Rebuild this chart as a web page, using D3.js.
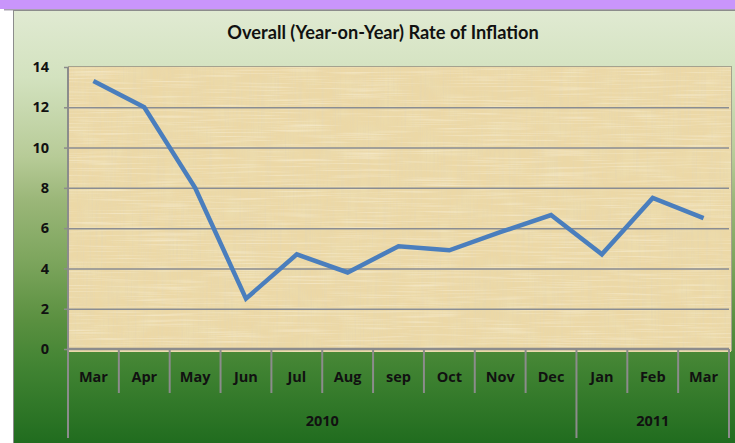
<!DOCTYPE html>
<html>
<head>
<meta charset="utf-8">
<script src="https://cdn.jsdelivr.net/npm/d3@7"></script>
<style>
  html, body { margin: 0; padding: 0; background: #fff; }
  svg { display: block; }
</style>
</head>
<body>
<div class="chart"></div>
<script>
// data
var months = ["Mar", "Apr", "May", "Jun", "Jul", "Aug", "sep", "Oct", "Nov", "Dec", "Jan", "Feb", "Mar"];
var inflation = [13.3, 12.0, 8.0, 2.5, 4.7, 3.8, 5.1, 4.9, 5.8, 6.65, 4.7, 7.5, 6.5];
var years = ["2010", "2011"];
var yearFirstMonth = [0, 10];   // index into months where each year begins
var yTicks = [0, 2, 4, 6, 8, 10, 12, 14];

var width = 735, height = 443;
var labelFont = "'Open Sans', sans-serif";
var labelSize = 14.5;

var svg = d3.select(".chart").append("svg")
    .attr("width", width)
    .attr("height", height);

var plot = { left: 68, right: 729, top: 67, bottom: 349 };
var monthRowBottom = 393, yearRowBottom = 438;

var defs = svg.append("defs");

var bg = defs.append("linearGradient")
    .attr("id", "bg")
    .attr("x1", 0).attr("y1", 0).attr("x2", 0).attr("y2", 1);
[[0, "#e0ead2"], [0.15, "#d3e2bf"], [0.33, "#b7cb97"], [0.43, "#9ab678"],
 [0.56, "#7ea65e"], [0.7, "#5a9040"], [0.8, "#428433"], [1, "#1c691c"]]
  .forEach(s => bg.append("stop").attr("offset", s[0]).attr("stop-color", s[1]));

// papyrus-ish texture: blotches, vertical fibres, faint horizontal ones
function fibres(id, freq, seed, rgb, gain, cut) {
    var f = defs.append("filter").attr("id", id)
        .attr("x", 0).attr("y", 0).attr("width", 1).attr("height", 1);
    f.append("feTurbulence")
        .attr("type", "fractalNoise")
        .attr("baseFrequency", freq)
        .attr("numOctaves", 2)
        .attr("seed", seed)
        .attr("result", "noise");
    f.append("feColorMatrix")
        .attr("in", "noise")
        .attr("type", "matrix")
        .attr("values", `0 0 0 0 ${rgb[0]}  0 0 0 0 ${rgb[1]}  0 0 0 0 ${rgb[2]}  ${gain} 0 0 0 ${cut}`)
        .attr("result", "tint");
    f.append("feComposite").attr("in", "tint").attr("in2", "SourceGraphic").attr("operator", "in");
}
fibres("blotch", "0.05 0.05", 3, [0.84, 0.74, 0.45], 1.3, -0.55);
fibres("vert", "0.6 0.015", 7, [0.8, 0.68, 0.42], 2.0, -0.85);
fibres("horiz", "0.015 0.6", 11, [0.98, 0.92, 0.76], 1.2, -0.6);

// top purple band
svg.append("rect")
    .attr("x", 0).attr("y", 0).attr("width", width).attr("height", 9)
    .attr("fill", "#c995fb");
svg.append("rect")
    .attr("x", 4).attr("y", 9).attr("width", width).attr("height", 1.5)
    .attr("fill", "#a8a0b0");

// chart area
svg.append("rect")
    .attr("x", 13.5).attr("y", 10.5).attr("width", width).attr("height", height)
    .attr("fill", "url(#bg)")
    .attr("stroke", "#8c8c8c");

svg.append("text")
    .attr("x", 383).attr("y", 39)
    .attr("text-anchor", "middle")
    .attr("font-family", "Lato, sans-serif")
    .attr("font-weight", "bold")
    .attr("font-size", 18.2)
    .attr("fill", "#111")
    .text("Overall (Year-on-Year) Rate of Inflation");

// plot background
var plotW = plot.right - plot.left + 2, plotH = plot.bottom - plot.top + 3;
svg.append("rect")
    .attr("x", plot.left).attr("y", plot.top - 1)
    .attr("width", plotW + 1).attr("height", plotH)
    .attr("fill", "#a5a28e");
svg.append("rect")
    .attr("x", plot.left).attr("y", plot.top)
    .attr("width", plotW).attr("height", plotH)
    .attr("fill", "#ecd8a6");
["blotch", "vert", "horiz"].forEach(id =>
    svg.append("rect")
        .attr("x", plot.left).attr("y", plot.top)
        .attr("width", plotW).attr("height", plotH)
        .attr("fill", "#ecd8a6")
        .attr("filter", `url(#${id})`));

var x = d3.scaleBand()
    .domain(d3.range(months.length))
    .range([plot.left, plot.right]);

var y = d3.scaleLinear()
    .domain([0, 14])
    .range([plot.bottom, plot.top]);

// gridlines
svg.append("g")
    .attr("transform", `translate(${plot.left},0)`)
    .call(d3.axisLeft(y).tickValues(yTicks.filter(d => d > 0 && d < 14)).tickSize(-(plot.right - plot.left)).tickFormat(""))
    .call(g => g.select(".domain").remove())
    .call(g => g.selectAll("line").attr("stroke", "#8a8d92").attr("stroke-width", 1.5));

// y axis
svg.append("g")
    .attr("transform", `translate(${plot.left},0)`)
    .call(d3.axisLeft(y).tickValues(yTicks).tickSize(4).tickPadding(15))
    .call(g => g.select(".domain").remove())
    .call(g => g.selectAll("line").attr("stroke", "#8c8c8c").attr("stroke-width", 1.5))
    .call(g => g.selectAll("text")
        .attr("font-family", labelFont)
        .attr("font-weight", "bold")
        .attr("font-size", labelSize)
        .attr("fill", "#111"));

svg.append("line")
    .attr("x1", plot.left).attr("x2", plot.left)
    .attr("y1", plot.top).attr("y2", yearRowBottom)
    .attr("stroke", "#8c8c8c").attr("stroke-width", 2);

// x axis baseline
svg.append("line")
    .attr("x1", plot.left).attr("x2", plot.right)
    .attr("y1", plot.bottom).attr("y2", plot.bottom)
    .attr("stroke", "#8c8c8c").attr("stroke-width", 2.5);

// month dividers and labels
var dividers = d3.range(1, months.length + 1);
svg.append("g").selectAll("line")
    .data(dividers)
    .join("line")
    .attr("x1", i => x(i - 1) + x.bandwidth())
    .attr("x2", i => x(i - 1) + x.bandwidth())
    .attr("y1", plot.bottom)
    .attr("y2", i => (yearFirstMonth.indexOf(i) >= 0 || i === months.length) ? yearRowBottom : monthRowBottom)
    .attr("stroke", "#8c8c8c").attr("stroke-width", 2);

svg.append("g").selectAll("text")
    .data(months)
    .join("text")
    .attr("x", (d, i) => x(i) + x.bandwidth() / 2)
    .attr("y", 382)
    .attr("text-anchor", "middle")
    .attr("font-family", labelFont)
    .attr("font-weight", "bold")
    .attr("font-size", labelSize)
    .attr("fill", "#111")
    .text(d => d);

// year labels
svg.append("g").selectAll("text")
    .data(years)
    .join("text")
    .attr("x", (d, i) => {
        var a = x(yearFirstMonth[i]);
        var b = i + 1 < years.length ? x(yearFirstMonth[i + 1]) : plot.right;
        return (a + b) / 2;
    })
    .attr("y", 426)
    .attr("text-anchor", "middle")
    .attr("font-family", labelFont)
    .attr("font-weight", "bold")
    .attr("font-size", labelSize)
    .attr("fill", "#111")
    .text(d => d);

// the series
var line = d3.line()
    .x((d, i) => x(i) + x.bandwidth() / 2)
    .y(d => y(d));

svg.append("path")
    .datum(inflation)
    .attr("d", line)
    .attr("fill", "none")
    .attr("stroke", "#4a7ebd")
    .attr("stroke-width", 4.5)
    .attr("stroke-linejoin", "miter")
    .attr("stroke-linecap", "butt");
</script>
</body>
</html>
